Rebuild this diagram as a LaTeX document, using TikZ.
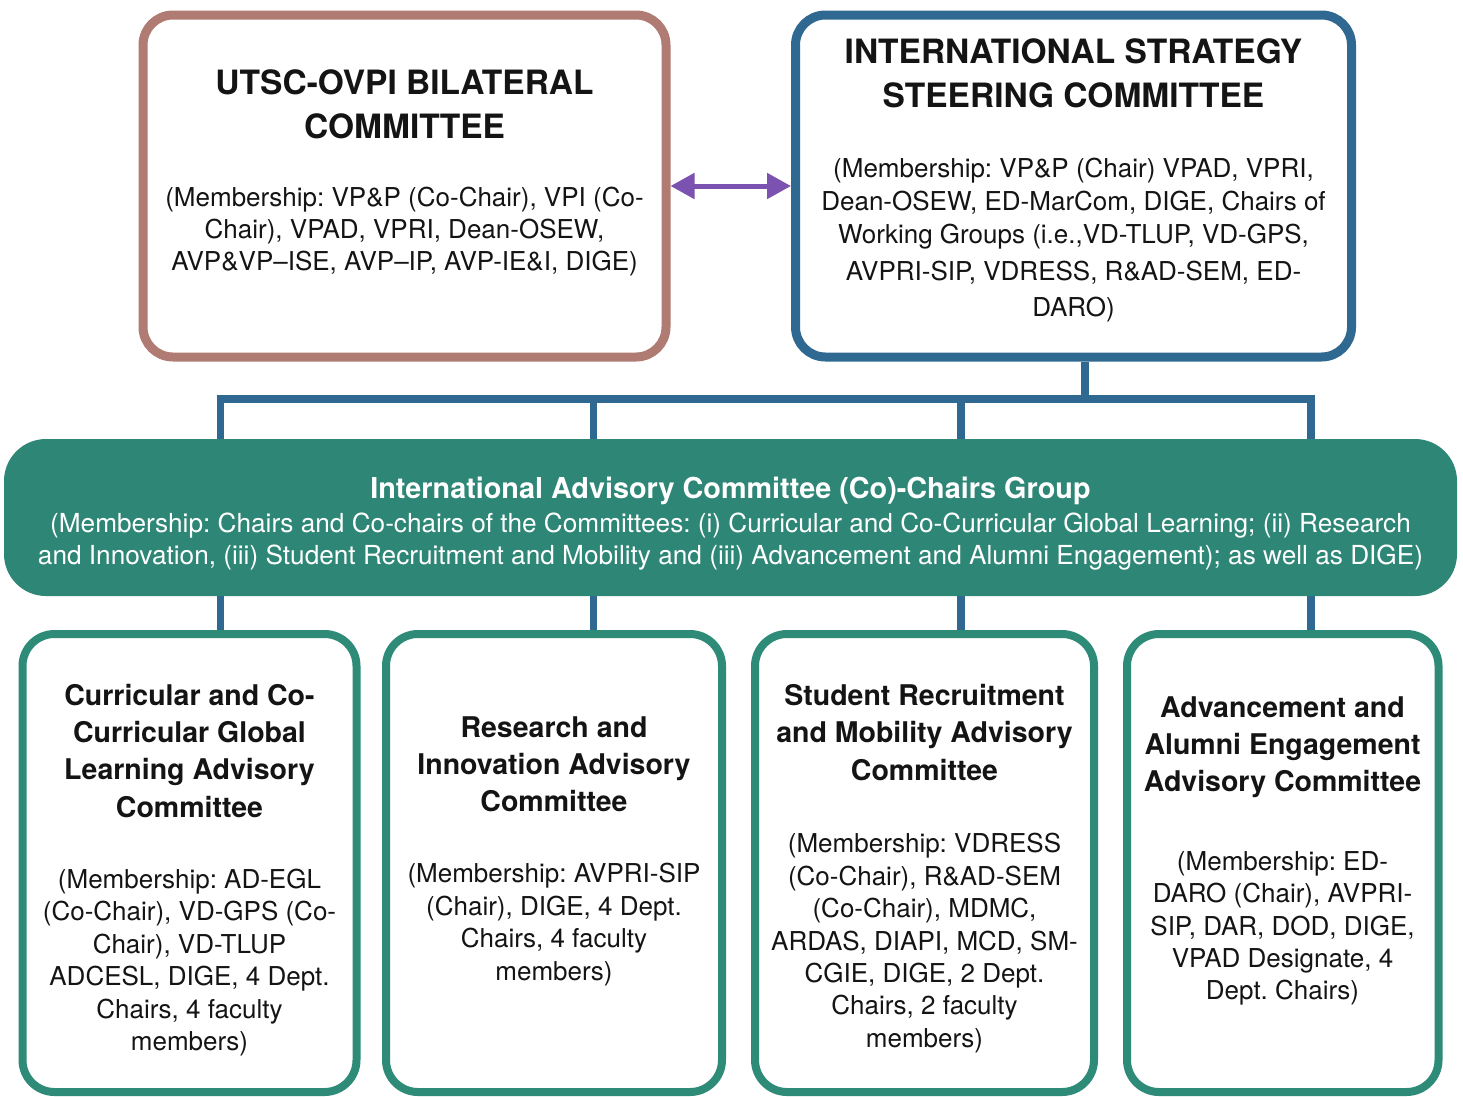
\documentclass[tikz,border=0pt]{standalone}
\usepackage{fontspec}
\setmainfont{TeX Gyre Heros}
\usetikzlibrary{arrows.meta}
\definecolor{brownc}{HTML}{AF7B72}
\definecolor{bluec}{HTML}{2F6890}
\definecolor{tealfill}{HTML}{2E8776}
\definecolor{tealline}{HTML}{2E8B78}
\definecolor{purplec}{HTML}{7C52B0}
\definecolor{txtc}{HTML}{141414}
\pgfdeclarelayer{bg}
\pgfsetlayers{bg,main}
\frenchspacing
\begin{document}
\frenchspacing
\begin{tikzpicture}[x=1pt,y=-1pt,
  topbox/.style={rectangle, draw, line width=9pt, rounded corners=30pt, fill=white, inner sep=0pt},
  lowbox/.style={rectangle, draw=tealline, line width=8pt, rounded corners=32pt, fill=white, inner sep=0pt, minimum height=458pt},
  greenbox/.style={rectangle, fill=tealfill, rounded corners=42pt, inner sep=0pt},
  conn/.style={draw=bluec, line width=7.5pt},
  arrowc/.style={draw=purplec, line width=5pt, {Triangle[length=24pt,width=25pt]}-{Triangle[length=24pt,width=25pt]}},
  ttl/.style={font=\fontsize{33.5}{44}\selectfont\bfseries\frenchspacing, align=center, inner sep=0pt, text=txtc},
  bdy/.style={font=\fontsize{26}{32.4}\selectfont\frenchspacing, align=center, inner sep=0pt, text=txtc},
  bdyb/.style={font=\fontsize{26}{33}\selectfont\frenchspacing, align=center, inner sep=0pt, text=txtc},
  lttl/.style={font=\fontsize{28.5}{37.4}\selectfont\bfseries\frenchspacing, align=center, inner sep=0pt, text=txtc},
  gttl/.style={font=\fontsize{28.8}{36}\selectfont\bfseries\frenchspacing, align=center, inner sep=0pt, text=white},
  gbdy/.style={font=\fontsize{26.2}{32}\selectfont\frenchspacing, align=center, inner sep=0pt, text=white}
]
\useasboundingbox (0,0) rectangle (1463,1096);

% top boxes
\node[topbox, draw=brownc, minimum width=523pt, minimum height=342pt] (utsc) at (404.5,186) {};
\node[topbox, draw=bluec, minimum width=556pt, minimum height=342pt] (issc) at (1073.5,186) {};

% green group box
\node[greenbox, minimum width=1453pt, minimum height=157pt] (iac) at (730.5,517.5) {};

% lower boxes
\node[lowbox, minimum width=334pt] (ca) at (189.5,863) {};
\node[lowbox, minimum width=336pt] (cb) at (554,863) {};
\node[lowbox, minimum width=339pt] (cc) at (924.5,863) {};
\node[lowbox, minimum width=311.5pt] (cd) at (1282.75,863) {};

% texts
\node[ttl] (utscT) at (404.5,103.8) {UTSC-OVPI BILATERAL\\COMMITTEE};
\node[bdy] (utscB) at (404.5,231.5) {(Membership: VP\&P (Co-Chair), VPI (Co-\\Chair), VPAD, VPRI, Dean-OSEW,\\AVP\&VP--ISE, AVP--IP, AVP-IE\&I, DIGE)};

\node[ttl] (isscT) at (1073.5,73.3) {INTERNATIONAL STRATEGY\\STEERING COMMITTEE};
\node[bdyb] (isscB) at (1073.5,240.3) {(Membership: VP\&P (Chair) VPAD, VPRI,\\Dean-OSEW, ED-MarCom, DIGE, Chairs of\\Working Groups (i.e.,VD-TLUP, VD-GPS,\\[4pt]AVPRI-SIP, VDRESS, R\&AD-SEM, ED-\\[3pt]DARO)};

\node[gttl] (iacT) at (730.5,491) {International Advisory Committee (Co)-Chairs Group};
\node[gbdy] (iacB) at (730.5,541.6) {(Membership: Chairs and Co-chairs of the Committees: (i) Curricular and Co-Curricular Global Learning; (ii) Research\\and Innovation, (iii) Student Recruitment and Mobility and (iii) Advancement and Alumni Engagement); as well as DIGE)};

\node[lttl] (caT) at (189.5,750.8) {Curricular and Co-\\Curricular Global\\Learning Advisory\\Committee};
\node[bdy] (caB) at (189.5,962.6) {(Membership: AD-EGL\\(Co-Chair), VD-GPS (Co-\\Chair), VD-TLUP\\ADCESL, DIGE, 4 Dept.\\Chairs, 4 faculty\\members)};

\node[lttl] (cbT) at (554,764.2) {Research and\\Innovation Advisory\\Committee};
\node[bdy] (cbB) at (554,924.6) {(Membership: AVPRI-SIP\\(Chair), DIGE, 4 Dept.\\Chairs, 4 faculty\\members)};

\node[lttl] (ccT) at (924.5,732.5) {Student Recruitment\\and Mobility Advisory\\Committee};
\node[bdy] (ccB) at (924.5,943.1) {(Membership: VDRESS\\(Co-Chair), R\&AD-SEM\\(Co-Chair), MDMC,\\ARDAS, DIAPI, MCD, SM-\\CGIE, DIGE, 2 Dept.\\Chairs, 2 faculty\\members)};

\node[lttl] (cdT) at (1282.5,747.2) {Advancement and\\Alumni Engagement\\Advisory Committee};
\node[bdy] (cdB) at (1282.5,928.4) {(Membership: ED-\\DARO (Chair), AVPRI-\\SIP, DAR, DOD, DIGE,\\VPAD Designate, 4\\Dept. Chairs)};

% arrow between top boxes
\draw[arrowc] (utsc.east) -- (issc.west);

% connectors
\coordinate (hub) at (1085,399);
\coordinate (c1) at (220.5,399);
\coordinate (c2) at (593.5,399);
\coordinate (c3) at (961,399);
\coordinate (c4) at (1311,399);
\begin{pgfonlayer}{bg}
\draw[conn] (hub |- issc.south) -- (hub);
\draw[conn] (c1 |- iac.north) -- (c1) -- (c4) -- (c4 |- iac.north);
\draw[conn] (c2) -- (c2 |- iac.north);
\draw[conn] (c3) -- (c3 |- iac.north);
\draw[conn] (c1 |- iac.south) -- (c1 |- ca.north);
\draw[conn] (c2 |- iac.south) -- (c2 |- cb.north);
\draw[conn] (c3 |- iac.south) -- (c3 |- cc.north);
\draw[conn] (c4 |- iac.south) -- (c4 |- cd.north);
\end{pgfonlayer}
\end{tikzpicture}
\end{document}
